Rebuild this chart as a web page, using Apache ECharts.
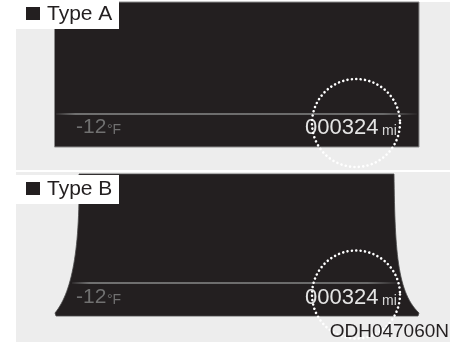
<!DOCTYPE html>
<html><head><meta charset="utf-8">
<script src="https://cdn.jsdelivr.net/npm/echarts@6/dist/echarts.min.js"></script>
<style>html,body{margin:0;padding:0;background:#fff}#c{width:454px;height:342px}</style>
</head><body><div id="c"></div>
<script>
const panelLabels = ['Type A', 'Type B'];
const temperatures = [-12, -12];
const tempUnit = '°F';
const odometerReadings = ['000324', '000324'];
const distanceUnit = 'mi';
const figureCode = 'ODH047060N';

const FONT = '"Liberation Sans", Arial, sans-serif';
const DARK = '#231f20';
const BG = '#ededed';

function cubic(p0, p1, p2, p3, n) {
  const out = [];
  for (let k = 0; k <= n; k++) {
    const t = k / n, u = 1 - t;
    out.push([u*u*u*p0[0] + 3*u*u*t*p1[0] + 3*u*t*t*p2[0] + t*t*t*p3[0],
              u*u*u*p0[1] + 3*u*u*t*p1[1] + 3*u*t*t*p2[1] + t*t*t*p3[1]]);
  }
  return out;
}
const shapeB = [].concat(
  cubic([79,174],[80,250],[72,292],[55,313], 30),
  [[56,316],[418,316]],
  cubic([419,313],[397,292],[395,250],[394,174], 30)
);

const chart = echarts.init(document.getElementById('c'), null, {renderer: 'canvas'});
const g = [];
const panels = [
  {top: 2, bottom: 170, lineY: 114, baseY: 135, circY: 123, labelY: 0},
  {top: 172, bottom: 342, lineY: 283, baseY: 305, circY: 294.5, labelY: 175}
];
panels.forEach((p, i) => {
  g.push({type: 'rect', shape: {x: 16, y: p.top, width: 434, height: p.bottom - p.top}, style: {fill: BG}, z: 1});
  if (i === 0) {
    g.push({type: 'rect', shape: {x: 54.5, y: p.top, width: 364.5, height: 145}, style: {fill: DARK, stroke: '#8c8c8c', lineWidth: 1}, z: 2});
  } else {
    g.push({type: 'polygon', shape: {points: shapeB}, style: {fill: DARK, stroke: '#4a4a4a', lineWidth: 0.8}, z: 2});
  }
  const x0 = i === 0 ? 56 : 72, x1 = i === 0 ? 417 : 398;
  g.push({type: 'line', shape: {x1: x0, y1: p.lineY, x2: x1, y2: p.lineY},
    style: {lineWidth: 2, stroke: new echarts.graphic.LinearGradient(0, 0, 1, 0, [
      {offset: 0, color: 'rgba(120,120,120,0)'}, {offset: 0.06, color: '#707070'},
      {offset: 0.9, color: '#6a6a6a'}, {offset: 1, color: 'rgba(110,110,110,0)'}])}, z: 3});
  const cy = p.baseY - 7.5;
  g.push({type: 'text', style: {text: String(temperatures[i]), x: 76, y: cy, font: '21px ' + FONT, fill: '#707070', textAlign: 'left', textVerticalAlign: 'middle'}, z: 4});
  g.push({type: 'text', style: {text: tempUnit, x: 107, y: p.baseY - 5, font: '14px ' + FONT, fill: '#707070', textAlign: 'left', textVerticalAlign: 'middle'}, z: 4});
  g.push({type: 'text', style: {text: odometerReadings[i], x: 305, y: cy, font: '22px ' + FONT, fill: '#e4e4e4', textAlign: 'left', textVerticalAlign: 'middle'}, z: 4});
  g.push({type: 'text', style: {text: distanceUnit, x: 382, y: p.baseY - 4, font: '14px ' + FONT, fill: '#d8d8d8', textAlign: 'left', textVerticalAlign: 'middle'}, z: 4});
  g.push({type: 'circle', shape: {cx: 356, cy: p.circY, r: 44}, style: {fill: 'none', stroke: '#ffffff', lineWidth: 2.6, lineDash: [0.01, 4.4], lineCap: 'round'}, z: 5});
  const ly = p.labelY;
  g.push({type: 'rect', shape: {x: 16, y: ly, width: 103, height: 29}, style: {fill: '#ffffff'}, z: 6});
  g.push({type: 'rect', shape: {x: 26, y: ly + 7, width: 14, height: 13}, style: {fill: DARK}, z: 7});
  g.push({type: 'text', style: {text: panelLabels[i], x: 47, y: ly + 14, font: '21px ' + FONT, fill: DARK, textAlign: 'left', textVerticalAlign: 'middle'}, z: 7});
});
g.push({type: 'text', style: {text: figureCode, x: 449, y: 332, font: '19px ' + FONT, fill: DARK, textAlign: 'right', textVerticalAlign: 'middle'}, z: 7});

chart.setOption({animation: false, backgroundColor: '#ffffff', graphic: {elements: g}});
</script></body></html>
